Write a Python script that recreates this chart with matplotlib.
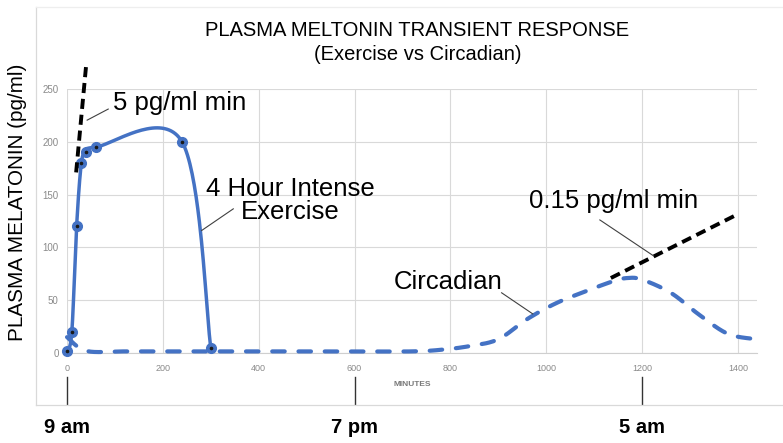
import numpy as np
import matplotlib
matplotlib.use("Agg")
from matplotlib import pyplot as plt
from matplotlib.transforms import blended_transform_factory
from matplotlib.lines import Line2D

plt.rcParams['font.family'] = ['Liberation Sans', 'DejaVu Sans']

# exercise response (minutes, pg/ml)
ex_min = [0, 10, 20, 30, 40, 60, 240, 300]
ex_val = [2, 20, 120, 180, 190, 195, 200, 5]

# circadian curve (minutes, pg/ml)
circ_min = [0, 40, 120, 240, 360, 480, 600, 720, 780, 840, 900, 960, 1020,
            1080, 1140, 1170, 1200, 1260, 1320, 1380, 1440]
circ_val = [15, 2, 1.5, 1.5, 1.5, 1.5, 1.5, 1.5, 3, 6.5, 13, 32, 47,
            58, 68, 71, 69.5, 57, 36, 18, 13]

# slope guide lines
fast_min = [19, 40]
fast_val = [171, 273]
slow_min = [1135, 1398]
slow_val = [71, 131]

x_ticks = [0, 200, 400, 600, 800, 1000, 1200, 1400]
y_ticks = [0, 50, 100, 150, 200, 250]
clock_min = [0, 600, 1200]
clock_labels = ["9 am", "7 pm", "5 am"]

BLUE = '#4472C4'
GRID = '#d9d9d9'


def excel_smooth(xs, ys, n=40):
    # bezier smoothing like the spreadsheet "smoothed line"
    p = np.column_stack([xs, ys]).astype(float)
    out = [p[0]]
    for i in range(len(p) - 1):
        p0 = p[i - 1] if i > 0 else p[i]
        p1, p2 = p[i], p[i + 1]
        p3 = p[i + 2] if i + 2 < len(p) else p[i + 1]
        c1 = p1 + (p2 - p0) / 6
        c2 = p2 - (p3 - p1) / 6
        t = np.linspace(0, 1, n)[1:, None]
        seg = ((1 - t) ** 3 * p1 + 3 * (1 - t) ** 2 * t * c1
               + 3 * (1 - t) * t ** 2 * c2 + t ** 3 * p2)
        out.extend(seg)
    out = np.array(out)
    return out[:, 0], out[:, 1]


fig = plt.figure(figsize=(7.83, 4.43), dpi=100)
ax = fig.add_axes([0.0856, 0.2032, 0.8812, 0.5959])
ax.set_xlim(0, 1440)
ax.set_ylim(0, 250)
ax.set_xticks(x_ticks)
ax.set_yticks(y_ticks)
ax.grid(True, color=GRID, lw=0.8)
ax.set_axisbelow(True)
for s in ['top', 'right', 'left']:
    ax.spines[s].set_visible(False)
ax.spines['bottom'].set_color('#cfcfcf')
ax.tick_params(length=0, labelsize=6.5, labelcolor='#8a8a8a')
ax.tick_params(axis='y', pad=6, labelsize=7)
ax.tick_params(axis='x', pad=8)

# circadian (dashed)
cx, cy = excel_smooth(circ_min, circ_val)
ax.plot(cx, cy, color=BLUE, lw=3.0, ls=(0, (3.0, 3.3)),
        dash_capstyle='round', zorder=3, clip_on=False)

# exercise (solid + markers)
sx, sy = excel_smooth(ex_min, ex_val)
ax.plot(sx, sy, color=BLUE, lw=2.5, zorder=4, clip_on=False)
ax.plot(ex_min, ex_val, 'o', color=BLUE, ms=7, zorder=5, clip_on=False)
ax.plot(ex_min, ex_val, 'o', color='#1a1a1a', ms=1.6, zorder=6, clip_on=False)

# slope guides
ax.plot(fast_min, fast_val, color='black', lw=2.8, ls=(0, (2.6, 1.5)),
        zorder=7, clip_on=False)
ax.plot(slow_min, slow_val, color='black', lw=2.8, ls=(0, (2.6, 1.5)),
        zorder=7, clip_on=False)

# callouts
lead = dict(color='#404040', lw=0.8, zorder=8)
ax.plot([42, 86], [220.5, 231], **lead)
ax.text(96, 236.5, "5 pg/ml min", fontsize=18.5, ha='left', va='center')

ax.plot([281, 347], [116, 136.5], **lead)
ax.text(466, 144, "4 Hour Intense\nExercise", fontsize=18.5, ha='center',
        va='center', linespacing=0.95)

ax.plot([1112, 1224], [126, 92], **lead)
ax.text(1140, 144, "0.15 pg/ml min", fontsize=18.5, ha='center', va='center')

ax.plot([907, 972], [57, 37], **lead)
ax.text(795, 67.5, "Circadian", fontsize=18.5, ha='center', va='center')

# titles
fig.text(0.533, 0.932, "PLASMA MELTONIN TRANSIENT RESPONSE", fontsize=14.5,
         ha='center', va='center')
fig.text(0.533, 0.876, "(Exercise vs Circadian)", fontsize=14.5,
         ha='center', va='center')
fig.text(0.022, 0.543, "PLASMA MELATONIN (pg/ml)", fontsize=14.9,
         rotation=90, ha='center', va='center')
fig.text(0.526, 0.133, "MINUTES", fontsize=6, fontweight='bold',
         color='#7a7a7a', ha='center', va='center')

# chart area border
fig.add_artist(Line2D([0.046, 0.046], [0.0858, 0.984], color=GRID, lw=0.9))
fig.add_artist(Line2D([0.046, 1.0], [0.0858, 0.0858], color=GRID, lw=0.9))
fig.add_artist(Line2D([0.046, 1.0], [0.984, 0.984], color='#eeeeee', lw=0.9))

# clock time markers below the axis
tr = blended_transform_factory(ax.transData, fig.transFigure)
for m, lab in zip(clock_min, clock_labels):
    ax.plot([m, m], [0.149, 0.088], color='#333333', lw=1.0,
            transform=tr, clip_on=False)
    ax.text(m, 0.034, lab, transform=tr, fontsize=14.5, fontweight='bold',
            ha='center', va='center')

fig.savefig("out.png", dpi=100)
